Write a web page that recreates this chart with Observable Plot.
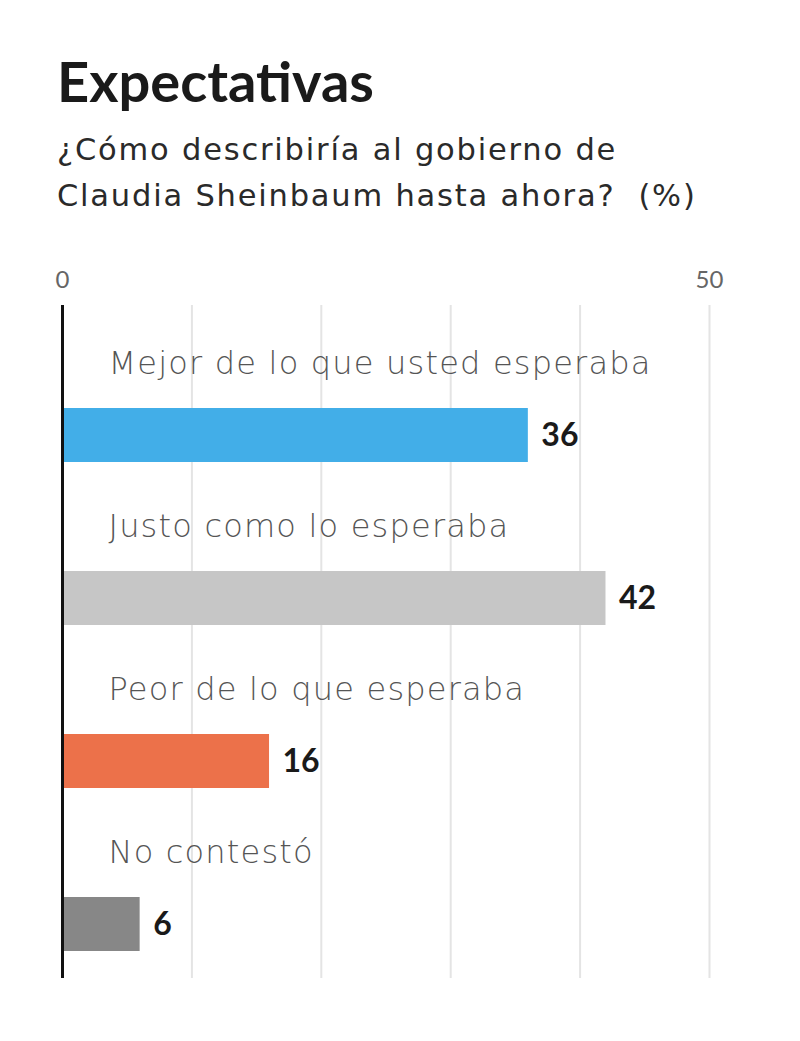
<!DOCTYPE html>
<html>
<head>
<meta charset="utf-8">
<script src="https://cdn.jsdelivr.net/npm/d3@7"></script>
<script src="https://cdn.jsdelivr.net/npm/@observablehq/plot@0.6"></script>
<style>
  html, body { margin: 0; padding: 0; background: #fff; }
  #header { position: relative; width: 800px; height: 230px; font-family: Lato, "Open Sans", sans-serif; }
  #title { position: absolute; left: 57px; top: 53px; font-size: 56px; line-height: 1; font-weight: 700; color: #1a1a1a; white-space: nowrap; }
  #subtitle { position: absolute; left: 57px; top: 127px; font-family: "DejaVu Sans", sans-serif; font-size: 30.5px; line-height: 46px; font-weight: 400; color: #2a2a2a; white-space: nowrap; letter-spacing: 1.8px; }
  #chart svg { display: block; }
</style>
</head>
<body>
<div id="header">
  <div id="title">Expectativas</div>
  <div id="subtitle">¿Cómo describiría al gobierno de<br>Claudia Sheinbaum hasta ahora?&nbsp; (%)</div>
</div>
<div id="chart"></div>
<script>
const categories = ["Mejor de lo que usted esperaba", "Justo como lo esperaba", "Peor de lo que esperaba", "No contestó"];
const values = [36, 42, 16, 6];
const colors = ["#42AEE8", "#C6C6C6", "#EC714A", "#878787"];
const axisTicks = [0, 50];
const gridTicks = [10, 20, 30, 40, 50];

const data = categories.map((c, i) => ({category: c, value: values[i], color: colors[i]}));

const chart = Plot.plot({
  width: 800,
  height: 811,
  marginTop: 75,
  marginBottom: 63,
  marginLeft: 62,
  marginRight: 91,
  x: {domain: [0, 50], axis: null},
  y: {domain: categories, range: [100, 752], padding: 0, axis: null},
  color: {type: "identity"},
  style: {fontFamily: "Lato, 'Open Sans', sans-serif", background: "white", overflow: "visible"},
  marks: [
    Plot.ruleX(gridTicks, {stroke: "#e4e4e4", strokeWidth: 2}),
    Plot.axisX(axisTicks, {anchor: "top", tickSize: 0, tickPadding: 18, fontSize: 24, fill: "#666", tickFormat: d => String(d), label: null}),
    Plot.barX(data, {x: "value", y: "category", fill: "color", insetTop: 78, insetBottom: 31}),
    Plot.ruleX([0], {stroke: "#111", strokeWidth: 3}),
    Plot.text(data, {x: 0, y: "category", text: "category", textAnchor: "start", dx: 46, dy: -48, fontSize: 32, fontWeight: 200, fontFamily: "'DejaVu Sans', sans-serif", fill: "#555"}),
    Plot.text(data, {x: "value", y: "category", text: d => String(d.value), textAnchor: "start", dx: 13, dy: 23.5, fontSize: 32, fontWeight: 700, fill: "#1a1a1a"})
  ]
});
chart.querySelectorAll("text").forEach(t => {
  if (categories.includes(t.textContent)) t.setAttribute("letter-spacing", "1.2");
});
document.getElementById("chart").appendChild(chart);
</script>
</body>
</html>
